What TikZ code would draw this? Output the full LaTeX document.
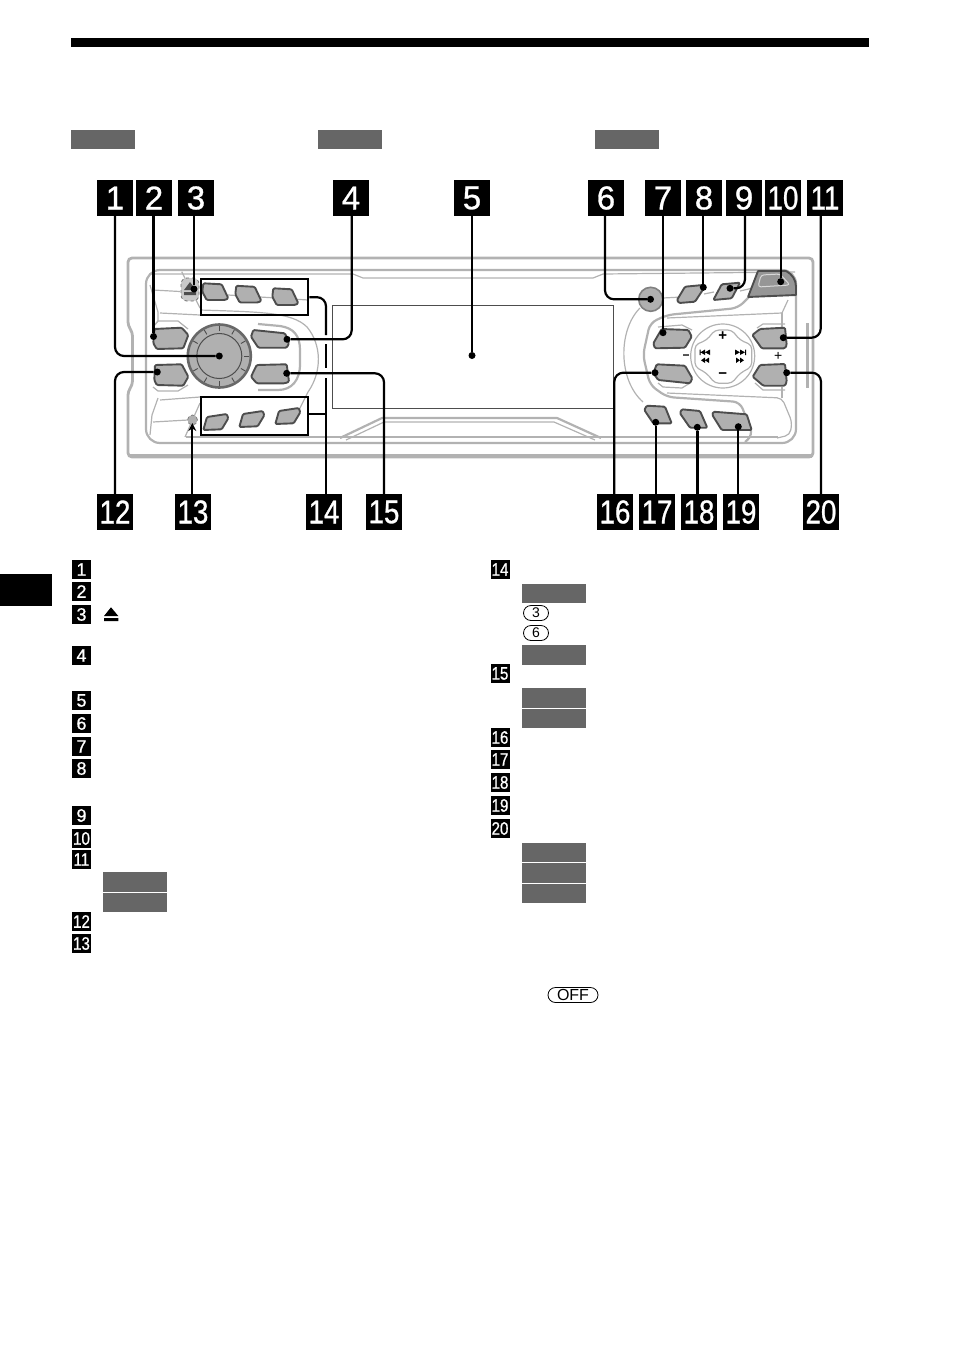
\documentclass[tikz,border=0pt]{standalone}
\usepackage{fontspec}
\usepackage{graphicx}
\usepackage{xcolor}
\usetikzlibrary{
    arrows.meta,
    calc,
    positioning
}
\setmainfont{Liberation Sans}
\newfontfamily\boxfont[FakeBold=0.9]{Liberation Sans}
\definecolor{shellgray}{HTML}{B2B2B2}
\definecolor{btngray}{HTML}{B0B0B0}
\definecolor{btnedge}{HTML}{4D4D4D}
\definecolor{taggray}{HTML}{666666}
\tikzset{
    bigbox/.style={fill=black, text=white, minimum size=36pt, inner sep=0pt, font=\boxfont\fontsize{33}{33}\selectfont},
    smallbox/.style={fill=black, text=white, minimum size=19pt, inner sep=0pt, font=\boxfont\fontsize{18}{18}\selectfont},
    graytag/.style={fill=taggray, minimum width=64pt, minimum height=19.5pt, inner sep=0pt},
    pillkey/.style={draw, line width=.8pt, rounded corners=7.5pt, minimum height=15pt, inner sep=0pt},
    pressbox/.style={draw, line width=2.2pt, inner sep=0pt},
    dotmark/.style={circle, fill=black, minimum size=7pt, inner sep=0pt},
    lead/.style={line width=2.2pt, rounded corners=9pt},
    btn/.style={draw=btnedge, fill=btngray, line width=1.9pt, rounded corners=1.2pt, line join=round},
    shell/.style={draw=shellgray, line width=1.2pt},
    shellmid/.style={draw=shellgray, line width=2.2pt},
    shellfat/.style={draw=shellgray, line width=4pt}
}
\newcommand{\tightnum}[1]{\scalebox{.84}[1]{#1}}
\begin{document}
\begin{tikzpicture}[x=1pt, y=-1pt]
\useasboundingbox (0,0) rectangle (954,1352);
% page furniture
\node[fill=black, minimum width=798pt, minimum height=9.5pt, inner sep=0pt] (topbar) at (470,42.5) {};
\node[fill=black, minimum width=52pt, minimum height=32pt, inner sep=0pt] (sidetab) at (26,590) {};
\foreach \n/\cx/\cy in {a/103/139.5, b/350/139.5, c/626.5/139.5, d/135/882, e/135/902.5, f/553.5/593.5, g/553.5/655, h/553.5/698, i/553.5/718.5, j/553.5/852.5, k/553.5/873, l/553.5/893.5}
    \node[graytag] (tag\n) at (\cx,\cy) {};
% shell of the unit
\draw[shellmid, line width=2.8pt, rounded corners=4pt] (128,258) -- (813,258) -- (813,457) -- (128,457) -- (128,391) -- (132.5,385) -- (132.5,332) -- (128,326) -- cycle;
\draw[shellfat] (130,455.5) -- (812,455.5);
\draw[shellfat, line width=3pt] (807,323) -- (807,388);
\draw[shellmid, rounded corners=14pt] (146,270) -- (796,270) -- (796,443) -- (146,443) -- cycle;
\draw[shell] (150,274) -- (353,274) -- (363,278) -- (593,278) -- (603,274) -- (795,272);
\draw[shell] (186,437) -- (778,437);
\draw[shellmid] (340,438) -- (382,418) -- (557,418) -- (601,438);
\draw[shell] (346,440) -- (384,422) -- (554,422) -- (595,440);
% left hand side
\draw[shell] (153,290) -- (180,291.5) (228,295) -- (308,300);
\draw[shell] (181.7,271.7) -- (200,308);
\draw[shell] (150,285) -- (158,312) -- (158,321) -- (153,327);
\draw[shell] (160,313) -- (200,315);
\draw[shell] (200,310) .. controls (260,312) and (292,312) .. (307,327) .. controls (322,345) and (322,372) .. (308,392) -- (298,412);
\draw[shellmid] (258,324) -- (280,326) .. controls (294,328) and (300,336) .. (300,350) -- (300,364) .. controls (300,380) and (292,390) .. (278,390) -- (258,390);
\draw[shell] (153,327) -- (158,321) -- (178,321) -- (188,329);
\draw[shell] (153,387) -- (158,391) -- (178,391) -- (188,385);
\draw[shell] (160,400) -- (200,397);
\draw[shell] (158,398) -- (152,415) -- (150,435);
\draw[shell] (153,422) -- (188,420);
\draw[shell] (200,403) -- (185,437);
% right hand side
\draw[shell] (640,308) .. controls (618,330) and (618,380) .. (643,402);
\draw[shell] (663,298) -- (682,297) (704,294) -- (714,292) (740,291) -- (753,288);
\draw[shellmid, rounded corners=7pt] (750,296) -- (738,308) -- (667,315) -- (650,323) -- (643,355) -- (650,385) -- (667,397) -- (740,402) -- (753,435) -- (745,442);
\draw[shell] (667,318) -- (782,313) -- (788,300);
\draw[shell] (782,313) -- (782,328) (782,387) -- (782,398);
\draw[shell, rounded corners=5pt] (667,393) -- (782,398) -- (792,422) -- (790,435) -- (777,438);
\draw[shell] (658,327) -- (682,325) -- (692,330);
\draw[shell] (658,383) -- (663,387) -- (682,388) -- (690,383);
\draw[shell] (757,328) -- (763,324) -- (785,324);
\draw[shell] (755,383) -- (763,390) -- (785,390);
% d-pad
\draw[shell] (722.7,356) circle[radius=32pt];
\draw[shell, rounded corners=4pt] (695,345) -- (706.7,340) -- (715,330) -- (731.7,330) -- (740,340) -- (751.7,345) -- (751.7,366.7) -- (740,373.3) -- (731.7,383.3) -- (715,383.3) -- (706.7,373.3) -- (695,366.7) -- cycle;
\fill (699.5,349.5) rectangle (700.5,355) (700.5,352.3) -- (705,349.5) -- (705,355) -- cycle (705,352.3) -- (710,349.5) -- (710,355) -- cycle;
\fill (701,360.3) -- (705,357.5) -- (705,363) -- cycle (705,360.3) -- (709,357.5) -- (709,363) -- cycle;
\fill (745,349.5) rectangle (746,355) (745,352.3) -- (740,349.5) -- (740,355) -- cycle (740,352.3) -- (735,349.5) -- (735,355) -- cycle;
\fill (744,360.3) -- (740,357.5) -- (740,363) -- cycle (740,360.3) -- (736,357.5) -- (736,363) -- cycle;
\node[font=\fontsize{15}{15}\bfseries\selectfont, inner sep=0pt] (dplus) at (722.7,336) {+};
\node[font=\fontsize{15}{15}\bfseries\selectfont, inner sep=0pt] (dminus) at (722.7,375.7) {−};
\node[font=\fontsize{12}{12}\bfseries\selectfont, inner sep=0pt] (volminus) at (686,356.7) {−};
\node[font=\fontsize{14}{14}\selectfont, inner sep=0pt] (volplus) at (778.3,356) {+};
% buttons
\foreach \dx/\dy in {0/0, 33/2.5, 70/5}
    \draw[btn, shift={(\dx,\dy)}] (203.3,283.3) -- (221.7,284.3) -- (228.3,298.3) -- (225,300) -- (206.7,300) -- (202.3,291.7) -- cycle;
\foreach \dx/\dy in {0/0, 36/-3, 72/-6}
    \draw[btn, shift={(\dx,\dy)}] (207,417) -- (226.7,414) -- (228.3,418.3) -- (221.7,429.3) -- (203.3,430) -- cycle;
\draw[btn] (154.3,329) -- (181.7,327.7) -- (188.3,335) -- (183.3,348.3) -- (156.7,349) -- (153.3,343.3) -- cycle;
\draw[btn] (155,365) -- (181.7,364.3) -- (188.3,376.7) -- (183.3,385.7) -- (156.7,385) -- (154.3,380) -- cycle;
\draw[btn] (253.3,330) -- (285,333.3) -- (289,343.3) -- (286.7,347.7) -- (258.3,347.7) -- (251,336.7) -- cycle;
\draw[btn] (256.7,365) -- (286.7,364.3) -- (289,381.7) -- (285,383.3) -- (256.7,383.3) -- (251,376.7) -- cycle;
\draw[btn] (685,286.7) -- (703,285) -- (704,288) -- (695,301.7) -- (679,303) -- (677,300) -- cycle;
\draw[btn] (721.7,284.3) -- (740,282.7) -- (731.7,298.3) -- (713.3,300) -- cycle;
\draw[btn] (661.7,329) -- (688.3,330) -- (691.7,336.7) -- (685,347.7) -- (655,348.3) -- (653.3,343.3) -- cycle;
\draw[btn] (656.7,364.3) -- (685,365.7) -- (692.3,378.3) -- (690,383.3) -- (658.3,380) -- (653.3,373.3) -- cycle;
\draw[btn] (760,329) -- (785,327.7) -- (786.7,345) -- (785,348.3) -- (761.7,348.3) -- (752.3,335) -- cycle;
\draw[btn] (760,365) -- (785,364) -- (786.7,381.7) -- (785,385.7) -- (763.3,385.7) -- (752.7,376.7) -- cycle;
\draw[btn] (646.7,405.7) -- (665,406.7) -- (671.7,423.3) -- (653.3,423.3) -- (644.3,410) -- cycle;
\draw[btn] (681.7,409.3) -- (700,411) -- (707.3,427.7) -- (690,427.7) -- (680,413.3) -- cycle;
\draw[btn] (713.3,411.7) -- (746.7,414.3) -- (751.7,430) -- (721.7,430) -- (712.3,415) -- cycle;
% knobs, flap
\draw[draw=btnedge!85, fill=btngray, line width=2.6pt] (219.3,356) circle[radius=31.5pt];
\draw[draw=btnedge, line width=1pt] (219.3,356) circle[radius=22.5pt];
\foreach \a in {0,30,...,330}
    \draw[draw=btnedge, line width=.9pt] ($(219.3,356)+(\a:25pt)$) -- ($(219.3,356)+(\a:30pt)$);
\draw[draw=gray, fill=btngray, line width=1.6pt] (650.7,299.3) circle[radius=12pt];
\draw[btn, fill=btngray!85!black, rounded corners=.5pt] (758,271) -- (786,271) .. controls (792,274) and (796,280) .. (796,287) -- (796,295) -- (748,297) -- cycle;
\draw[draw=white!85!black, line width=1pt, rounded corners=3pt] (761,275) -- (780,274) -- (790,285) -- (758,287) -- cycle;
\draw[draw=btnedge!80, dashed, fill=shellgray!70, line width=.8pt, rounded corners=6pt] (181,278) rectangle (199,301);
\fill[btnedge] (184,290) -- (190,282) -- (196,290) -- cycle (184,292) rectangle (196,295);
\draw[draw=gray, dashed, fill=btngray, line width=.8pt] (192.5,420) circle[radius=5pt];
% screen
\node[draw=btnedge, line width=1pt, minimum width=280.6pt, minimum height=102.6pt, inner sep=0pt] (screen) at (473,357) {};
\node[pressbox, minimum width=107.3pt, minimum height=35.7pt] (boxtop) at (254.6,297.2) {};
\node[pressbox, minimum width=107.3pt, minimum height=37.7pt] (boxbot) at (254.6,416.2) {};
% big labels
\foreach \n/\cx in {1/115, 2/154, 3/196, 4/351, 5/472, 6/606, 7/663, 8/704, 9/744}
    \node[bigbox] (l\n) at (\cx,198) {\n};
\foreach \n/\cx in {10/783, 11/825}
    \node[bigbox] (l\n) at (\cx,198) {\tightnum{\n}};
\foreach \n/\cx in {12/115, 13/193, 14/324, 15/384, 16/615, 17/657, 18/699, 19/741, 20/821}
    \node[bigbox] (l\n) at (\cx,512) {\tightnum{\n}};
% small labels
\foreach \n/\cy in {1/569.5, 2/591.5, 3/614.5, 4/655.5, 5/700.5, 6/723.5, 7/746.5, 8/768.5, 9/815.5}
    \node[smallbox] (s\n) at (81.5,\cy) {\n};
\foreach \n/\cy in {10/838.5, 11/859.5, 12/921.5, 13/943.5}
    \node[smallbox] (s\n) at (81.5,\cy) {\tightnum{\n}};
\foreach \n/\cy in {14/569.5, 15/673.5, 16/737.5, 17/759.5, 18/782.5, 19/805.5, 20/828.5}
    \node[smallbox] (s\n) at (500,\cy) {\tightnum{\n}};
% legend keys
\fill (104,616) -- (111,607.3) -- (118.3,616) -- cycle (104,618) rectangle (118.3,621);
\node[pillkey, minimum width=25pt, font=\fontsize{14}{14}\selectfont] (key3) at (536,613) {3};
\node[pillkey, minimum width=25pt, font=\fontsize{14}{14}\selectfont] (key6) at (536,633) {6};
\node[pillkey, minimum width=50pt, font=\fontsize{16}{16}\selectfont] (keyoff) at (573,995) {OFF};
% lead ends
\foreach \n/\cx/\cy in {1/219.3/356, 2/153.5/336.5, 3/194/289, 4/287/339.3, 5/472/355.5, 6/650.5/299.3, 7/663/332.7, 8/703.3/287.3, 9/730/288.3, 10/780.7/281.7, 11/783.3/337.7, 12/157.3/372, 15/286.7/373.3, 16/655/372.7, 17/655.7/422.3, 18/697.3/427.3, 19/738.3/426.7, 20/786.7/372.7}
    \node[dotmark] (d\n) at (\cx,\cy) {};
\coordinate (d13) at (192.3,423);
\coordinate (gap1) at (326,335);
\coordinate (gap2) at (326,344);
\coordinate (gap3) at (326,368);
\coordinate (gap4) at (326,378);
\coordinate (join14) at (326,414.3);
% leads
\draw[lead] (l1.south) |- (d1);
\draw[lead] (d2 |- l2.south) -- (d2);
\draw[lead] (d3 |- l3.south) -- (d3);
\draw[lead] ([xshift=.7pt]l4.south) |- (d4);
\draw[lead] (l5.south) -- (d5);
\draw[lead] ([xshift=-1pt]l6.south) |- (d6);
\draw[lead] (d7 |- l7.south) -- (d7);
\draw[lead] (d8 |- l8.south) -- (d8);
\draw[lead] ([xshift=1pt]l9.south) |- (d9);
\draw[lead] (d10 |- l10.south) -- (d10);
\draw[lead] ([xshift=-4.3pt]l11.south) |- (d11);
\draw[lead] (l12.north) |- (d12);
\draw[lead, -{Stealth[length=8pt, width=8pt]}] (d13 |- l13.north) -- (d13);
\draw[lead] (boxtop.east) -| (gap1);
\draw[lead] (gap2) -- (gap3);
\draw[lead] (gap4) -- (gap4 |- l14.north);
\draw[lead] (boxbot.east |- join14) -- (join14);
\draw[lead] (l15.north) |- (d15);
\draw[lead] ([xshift=-.7pt]l16.north) |- (d16);
\draw[lead] (d17 |- l17.north) -- (d17);
\draw[lead, line width=3pt] (d18 |- l18.north) -- (d18);
\draw[lead] (d19 |- l19.north) -- (d19);
\draw[lead] (l20.north) |- (d20);
\end{tikzpicture}
\end{document}
